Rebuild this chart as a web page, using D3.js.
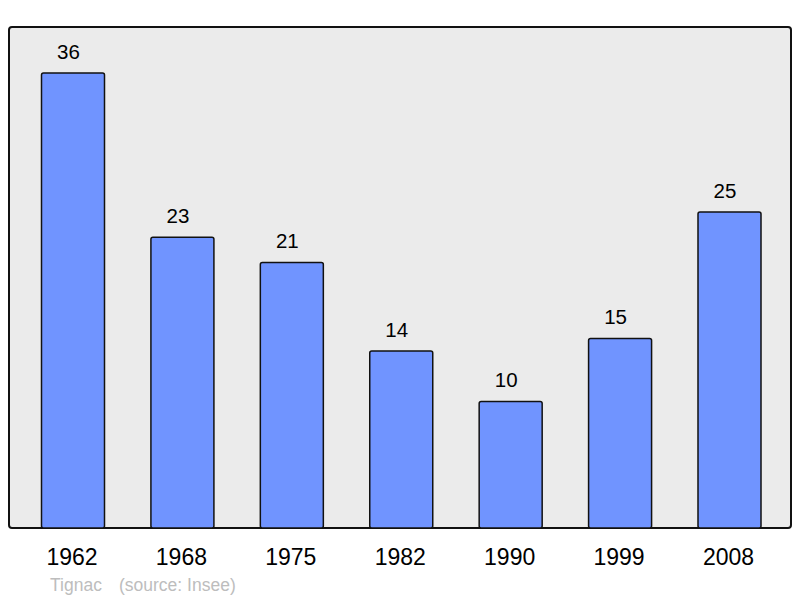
<!DOCTYPE html>
<html><head><meta charset="utf-8">
<script src="https://cdn.jsdelivr.net/npm/d3@7"></script>
<style>body{margin:0;background:#fff}svg{display:block}</style>
</head><body>
<svg id="c" width="800" height="598"></svg>
<script>
const years = ["1962","1968","1975","1982","1990","1999","2008"];
const values = [36,23,21,14,10,15,25];
const place = "Tignac";
const source = "(source: Insee)";

const svg = d3.select("#c");
const font = "Liberation Sans, Arial, sans-serif";
const frame = {x0:9, y0:27, x1:791, y1:528};
svg.append("rect").attr("x",frame.x0).attr("y",frame.y0)
  .attr("width",frame.x1-frame.x0).attr("height",frame.y1-frame.y0)
  .attr("rx",3).attr("fill","#ebebeb").attr("stroke","#111").attr("stroke-width",2);

const xs = d3.scalePoint().domain(years).range([73,729.5]);
const y = d3.scaleLinear().domain([0,36]).range([528,73]);
const bw = 63;

svg.append("g").selectAll("rect").data(values).join("rect")
  .attr("x",(d,i)=>xs(years[i])-bw/2).attr("y",d=>y(d))
  .attr("width",bw).attr("height",d=>y(0)-y(d))
  .attr("rx",2).attr("fill","#7094ff").attr("stroke","#111").attr("stroke-width",1.5);

svg.append("g").selectAll("text").data(values).join("text")
  .attr("x",(d,i)=>xs(years[i])-4.5).attr("y",d=>y(d)-14.5)
  .attr("text-anchor","middle").attr("font-family",font)
  .attr("font-size",20.5).attr("fill","#000").text(d=>d);

svg.append("g").selectAll("text").data(years).join("text")
  .attr("x",d=>xs(d)-1).attr("y",565)
  .attr("text-anchor","middle").attr("font-family",font)
  .attr("font-size",23).attr("fill","#000").text(d=>d);

svg.append("text").attr("x",50).attr("y",591).attr("font-family",font)
  .attr("font-size",17.5).attr("fill","#bdbdbd").text(place);
svg.append("text").attr("x",119).attr("y",591).attr("font-family",font)
  .attr("font-size",17.5).attr("fill","#bdbdbd").text(source);
</script>
</body></html>
